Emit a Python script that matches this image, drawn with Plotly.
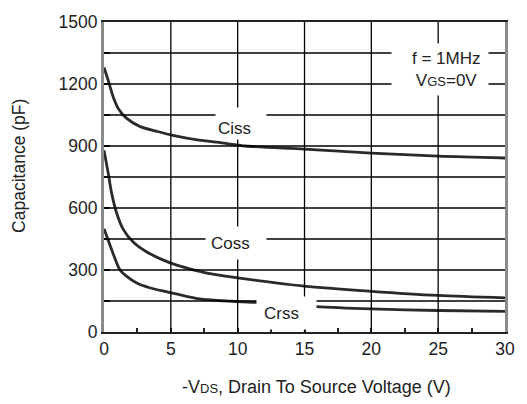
import plotly.graph_objects as go

# Drain-source voltage (V) and capacitance (pF) for each curve
ciss_v = [0, 0.32, 0.69, 1.06, 1.68, 2.67, 3.9, 5.15, 7.1, 9.1, 10.6, 15, 20, 25, 30]
ciss_c = [1280, 1216, 1137, 1082, 1035, 995, 972, 951, 928, 913, 900, 885, 866, 851, 842]

coss_v = [0, 0.32, 0.57, 0.94, 1.43, 2.18, 3.17, 4.4, 5.5, 7.7, 10, 15, 20, 25, 30]
coss_c = [880, 767, 672, 577, 498, 435, 388, 349, 322, 285, 262, 222, 197, 177, 165]

crss_v = [0, 0.45, 0.82, 1.19, 1.68, 2.42, 3.4, 4.65, 5.5, 7.0, 10, 11.5, 15.8, 20, 25, 30]
crss_c = [500, 420, 356, 301, 270, 238, 214, 195, 183, 162, 147, 143, 123, 112, 104, 100]

x_ticks = [0, 5, 10, 15, 20, 25, 30]
x_minor = [2.5, 7.5, 12.5, 17.5, 22.5, 27.5]
y_grid = [0, 150, 300, 450, 600, 750, 900, 1050, 1200, 1350, 1500]
y_labels = ["0", "", "300", "", "600", "", "900", "", "1200", "", "1500"]

FONT = "Liberation Sans, Arial, sans-serif"
CURVE = "#2a2a2a"
INK = "#222"
GRID = "#000"

fig = go.Figure()
for vx, cy in [(ciss_v, ciss_c), (coss_v, coss_c), (crss_v, crss_c)]:
    fig.add_trace(go.Scatter(x=vx, y=cy, mode="lines",
                             line=dict(color=CURVE, width=2.8, shape="spline", smoothing=0.8)))

# grid lines at every tick, kept on top so they are always visible
for xv in x_ticks[1:-1]:
    fig.add_shape(type="line", xref="x", yref="paper", x0=xv, x1=xv, y0=0, y1=1,
                  line=dict(color=GRID, width=1.3), layer="above")
for yv in y_grid[1:-1]:
    fig.add_shape(type="line", xref="paper", yref="y", x0=0, x1=1, y0=yv, y1=yv,
                  line=dict(color=GRID, width=1.4), layer="above")

annotations = []


def label(text, tx, ty, bx, by, bw, bh, size=17):
    # white box that interrupts grid lines, then the label text on top
    annotations.append(dict(x=bx, y=by, xref="x", yref="y", text=" ", showarrow=False,
                            width=bw, height=bh, bgcolor="white", borderpad=0,
                            xanchor="center", yanchor="middle"))
    annotations.append(dict(x=tx, y=ty, xref="x", yref="y", text=text, showarrow=False,
                            font=dict(family=FONT, size=size, color=INK),
                            xanchor="center", yanchor="middle"))


label("Ciss", 9.76, 983, 10.25, 1007, 50, 31)
label("Coss", 9.43, 429, 9.88, 429, 60, 32)
label("Crss", 13.3, 90, 13.63, 90, 59, 32)
label("f = 1MHz<br>V<span style='font-size:13px'>GS</span>=0V", 25.62, 1269, 25.17, 1271, 96, 51)

# axis titles
annotations.append(dict(
    x=0.531, y=-0.176, xref="paper", yref="paper", showarrow=False,
    text="-V<span style='font-size:13px'>DS</span>, Drain To Source Voltage (V)",
    font=dict(family=FONT, size=18, color=INK), xanchor="center", yanchor="middle"))
annotations.append(dict(
    x=-0.2104, y=0.5346, xref="paper", yref="paper", showarrow=False,
    text="Capacitance (pF)", textangle=-90,
    font=dict(family=FONT, size=17.5, color=INK), xanchor="center", yanchor="middle"))

fig.update_layout(
    width=527, height=404,
    margin=dict(l=104, r=19, t=14, b=72),
    paper_bgcolor="white", plot_bgcolor="white",
    font=dict(family=FONT, size=17.5, color=INK),
    showlegend=False,
    annotations=annotations,
    xaxis=dict(
        range=[0, 30], tickvals=x_ticks,
        showgrid=False,
        showline=True, linecolor=INK, linewidth=2, mirror=True,
        ticks="inside", ticklen=4, tickwidth=1.5, tickcolor=INK,
        minor=dict(tickvals=x_minor, ticks="inside", ticklen=4, tickwidth=1.5,
                   tickcolor=INK, showgrid=False),
        zeroline=False,
    ),
    yaxis=dict(
        range=[0, 1500], tickvals=y_grid, ticktext=y_labels,
        showgrid=False,
        showline=True, linecolor="#8a8a8a", linewidth=3, mirror=True,
        ticks="inside", ticklen=6, tickwidth=2, tickcolor="#111",
        zeroline=False,
    ),
)

fig.write_html("out.html")
